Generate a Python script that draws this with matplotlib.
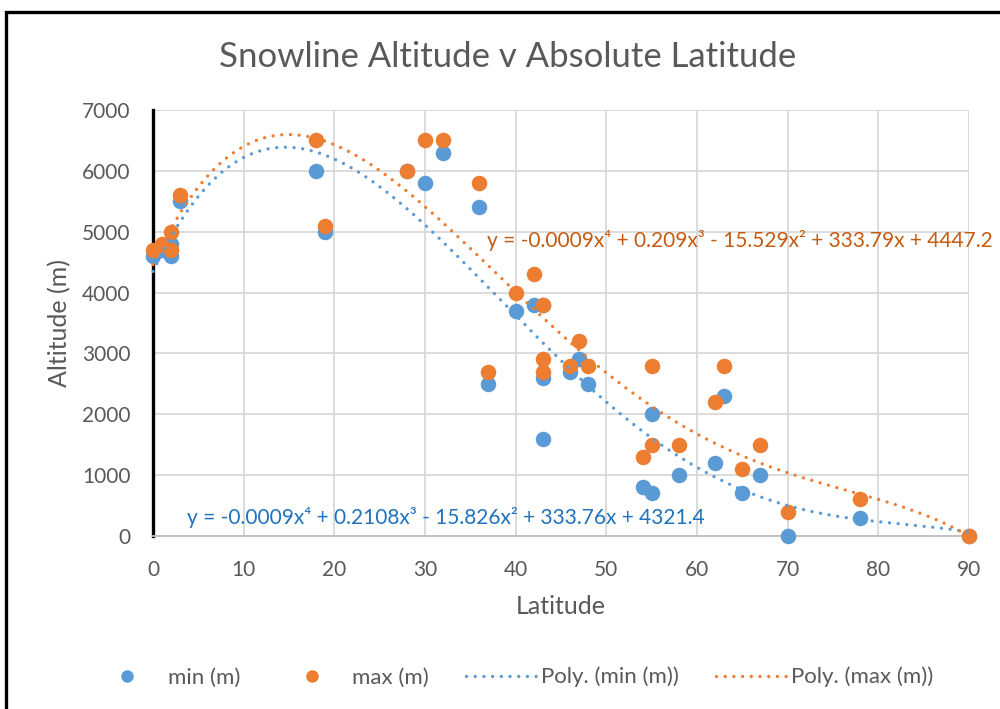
import numpy as np
import matplotlib.pyplot as plt
from matplotlib.lines import Line2D
from matplotlib.patches import Rectangle

# data
latitude = [0, 1, 2, 2, 3, 18, 19, 28, 30, 32, 36, 37, 40, 42, 43, 43, 43, 46, 47, 48,
            54, 55, 55, 58, 62, 63, 65, 67, 70, 78, 90]
min_alt = [4600, 4700, 4800, 4600, 5500, 6000, 5000, 6000, 5800, 6300, 5400, 2500, 3700, 3800,
           3800, 2600, 1600, 2700, 2900, 2500, 800, 2000, 700, 1000, 1200, 2300, 700, 1000, 0, 300, 0]
max_alt = [4700, 4800, 5000, 4700, 5600, 6500, 5100, 6000, 6500, 6500, 5800, 2700, 4000, 4300,
           3800, 2900, 2700, 2800, 3200, 2800, 1300, 2800, 1500, 1500, 2200, 2800, 1100, 1500, 400, 600, 0]

eq_min = 'y = -0.0009x\u2074 + 0.2108x\u00b3 - 15.826x\u00b2 + 333.76x + 4321.4'
eq_max = 'y = -0.0009x\u2074 + 0.209x\u00b3 - 15.529x\u00b2 + 333.79x + 4447.2'

blue = '#5B9BD5'
orange = '#ED7D31'
grey = '#595959'
dots = (0, (0.01, 2.6))

plt.rcParams['font.family'] = ['Lato', 'DejaVu Sans']

fig = plt.figure(figsize=(10, 7.09), dpi=100)
ax = fig.add_axes([0.153, 0.244, 0.816, 0.601])

x = np.array(latitude, dtype=float)
lo = np.array(min_alt, dtype=float)
hi = np.array(max_alt, dtype=float)

ax.scatter(x, lo, s=125, color=blue, zorder=3, clip_on=False, linewidths=0)
ax.scatter(x, hi, s=125, color=orange, zorder=4, clip_on=False, linewidths=0)

# 4th order polynomial trendlines
xs = np.linspace(0, 90, 400)
for vals, col in [(lo, blue), (hi, orange)]:
    p = np.polyfit(x, vals, 4)
    ax.plot(xs, np.polyval(p, xs), color=col, lw=2.4, ls=dots,
            dash_capstyle='round', zorder=5, clip_on=False)

ax.set_xlim(0, 90)
ax.set_ylim(0, 7000)
ax.set_xticks(range(0, 91, 10))
ax.set_yticks(range(0, 7001, 1000))
ax.grid(True, color='#d9d9d9', lw=1.3, zorder=0)
ax.set_axisbelow(True)
ax.tick_params(length=0, labelsize=15, colors=grey)
ax.tick_params(axis='y', pad=16)
ax.tick_params(axis='x', pad=17)
for s in ['top', 'right']:
    ax.spines[s].set_visible(False)
ax.spines['bottom'].set_color('#bfbfbf')
ax.spines['bottom'].set_linewidth(1.3)
ax.spines['left'].set_color('black')
ax.spines['left'].set_linewidth(2.4)
ax.spines['left'].set_zorder(2.5)

ax.set_xlabel('Latitude', fontsize=18, color=grey, labelpad=11)
ax.set_ylabel('Altitude (m)', fontsize=18, color=grey, labelpad=8)

fig.text(0.508, 0.92, 'Snowline Altitude v Absolute Latitude', ha='center', va='center',
         fontsize=25, color=grey)

ax.text(3.7, 300, eq_min, fontsize=15, color='#1F73BE', va='center')
ax.text(36.8, 4850, eq_max, fontsize=15, color='#C55A11', va='center')

handles = [
    Line2D([], [], ls='none', marker='o', ms=9, color=blue, mec='none'),
    Line2D([], [], ls='none', marker='o', ms=9, color=orange, mec='none'),
    Line2D([], [], color=blue, lw=2.4, ls=dots, dash_capstyle='round'),
    Line2D([], [], color=orange, lw=2.4, ls=dots, dash_capstyle='round'),
]
labels = ['min (m)', 'max (m)', 'Poly. (min (m))', 'Poly. (max (m))']
fig.legend(handles, labels, loc='center', bbox_to_anchor=(0.513, 0.045), ncol=4,
           frameon=False, fontsize=16, labelcolor=grey, handlelength=3.15,
           columnspacing=1.65, handletextpad=0.25)

# chart border
fig.patches.append(Rectangle((0.006, -0.1), 1.2, 1.083, transform=fig.transFigure,
                             fill=False, ec='black', lw=2.4))

fig.savefig('out.png', dpi=100)
